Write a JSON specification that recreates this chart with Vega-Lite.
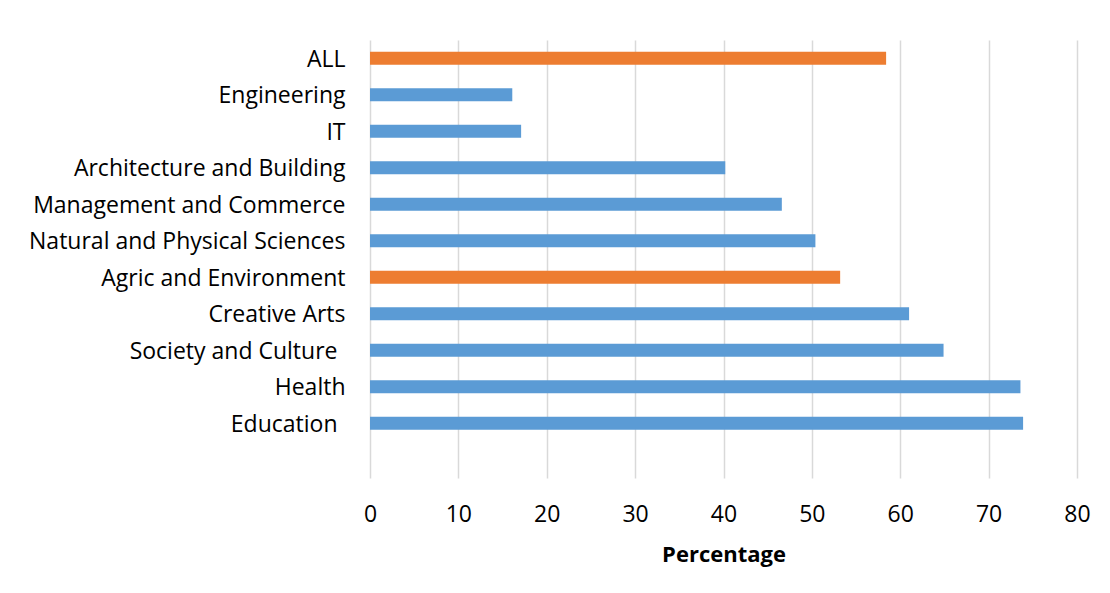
{
  "$schema": "https://vega.github.io/schema/vega-lite/v6.json",
  "width": 707,
  "height": 438,
  "autosize": {"type": "none"},
  "padding": {"left": 370, "top": 40, "right": 33, "bottom": 115},
  "background": "white",
  "config": {
    "view": {"stroke": null},
    "font": "Open Sans",
    "axis": {"labelFont": "Open Sans", "titleFont": "Open Sans", "labelColor": "#000000", "titleColor": "#000000"}
  },
  "data": {
    "values": [
      {"field": "ALL", "pct": 58.4, "highlight": "yes"},
      {"field": "Engineering", "pct": 16.1, "highlight": "no"},
      {"field": "IT", "pct": 17.1, "highlight": "no"},
      {"field": "Architecture and Building", "pct": 40.2, "highlight": "no"},
      {"field": "Management and Commerce", "pct": 46.6, "highlight": "no"},
      {"field": "Natural and Physical Sciences", "pct": 50.4, "highlight": "no"},
      {"field": "Agric and Environment", "pct": 53.2, "highlight": "yes"},
      {"field": "Creative Arts", "pct": 61.0, "highlight": "no"},
      {"field": "Society and Culture", "pct": 64.9, "highlight": "no"},
      {"field": "Health", "pct": 73.6, "highlight": "no"},
      {"field": "Education", "pct": 73.9, "highlight": "no"}
    ]
  },
  "mark": {"type": "bar"},
  "encoding": {
    "y": {
      "field": "field",
      "type": "nominal",
      "scale": {
        "domain": ["ALL", "Engineering", "IT", "Architecture and Building", "Management and Commerce", "Natural and Physical Sciences", "Agric and Environment", "Creative Arts", "Society and Culture", "Health", "Education", " "],
        "paddingInner": 0.644,
        "paddingOuter": 0.322
      },
      "axis": {
        "title": null,
        "domain": false,
        "ticks": false,
        "labelFontSize": 23,
        "labelOffset": 1.5,
        "labelPadding": {
          "condition": {"test": "datum.value === 'Education' || datum.value === 'Society and Culture'", "value": 33},
          "value": 25
        },
        "labelLimit": 400
      }
    },
    "x": {
      "field": "pct",
      "type": "quantitative",
      "scale": {"domain": [0, 80], "nice": false},
      "axis": {
        "title": "Percentage",
        "values": [0, 10, 20, 30, 40, 50, 60, 70, 80],
        "grid": true,
        "gridColor": "#d9d9d9",
        "gridWidth": 1.5,
        "domain": false,
        "ticks": false,
        "labelFlush": false,
        "labelFontSize": 23,
        "labelPadding": 25,
        "titleFontSize": 22,
        "titleFontWeight": "bold",
        "titlePadding": 18
      }
    },
    "color": {
      "field": "highlight",
      "type": "nominal",
      "scale": {"domain": ["yes", "no"], "range": ["#ED7D31", "#5B9BD5"]},
      "legend": null
    }
  }
}
